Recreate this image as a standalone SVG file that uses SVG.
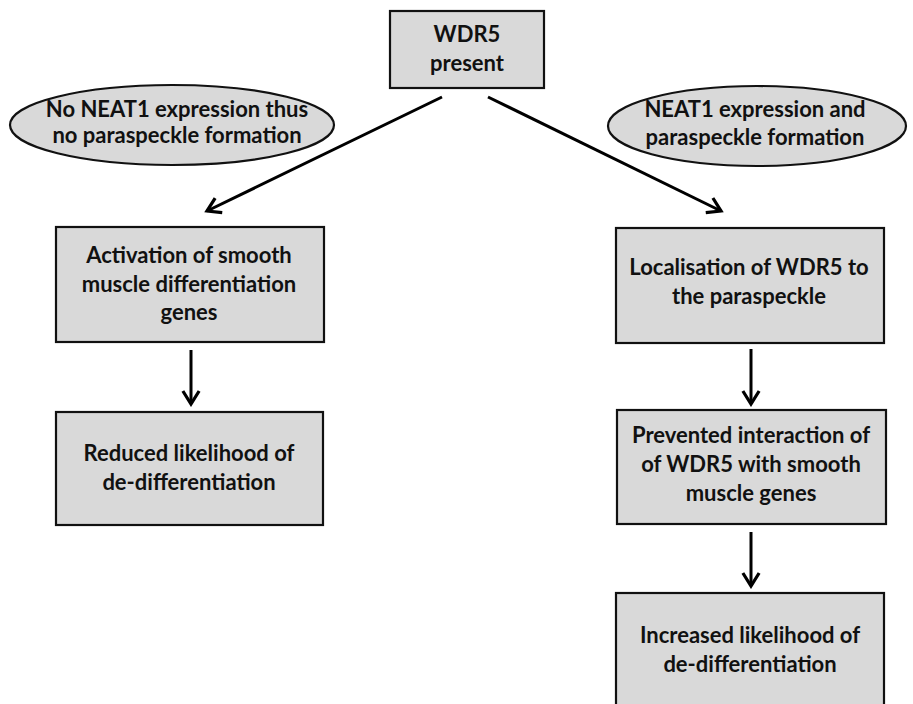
<svg xmlns="http://www.w3.org/2000/svg" width="913" height="704" viewBox="0 0 913 704">
<style>
.box{fill:#d9d9d9;stroke:#111;stroke-width:2.2}
.t{font-family:Lato,"Open Sans","Liberation Sans",sans-serif;font-weight:bold;font-size:22px;fill:#111;text-anchor:middle}
.c{stroke:#000;stroke-width:3;fill:none;marker-end:url(#ah)}
</style>
<defs>
<marker id="ah" viewBox="0 0 12 12" refX="10" refY="6" markerWidth="6.5" markerHeight="6.5" orient="auto" markerUnits="strokeWidth">
<path d="M2,1 L10,6 L2,11" fill="none" stroke="#000" stroke-width="2"/>
</marker>
</defs>
<rect width="913" height="704" fill="#fff"/>
<g id="connectors">
<line class="c" x1="442" y1="97" x2="207" y2="211"/>
<line class="c" x1="488" y1="97" x2="721" y2="211"/>
<line class="c" x1="191" y1="350" x2="191" y2="404"/>
<line class="c" x1="751" y1="349" x2="751" y2="404"/>
<line class="c" x1="751" y1="532" x2="751" y2="586"/>
</g>
<g id="wdr5">
<rect class="box" x="390" y="11" width="154" height="77"/>
<text class="t" x="467" y="42">WDR5</text>
<text class="t" x="467" y="71">present</text>
</g>
<g id="no-neat1">
<ellipse class="box" cx="172" cy="125" rx="162" ry="40"/>
<text class="t" x="177" y="117">No NEAT1 expression thus</text>
<text class="t" x="177" y="143">no paraspeckle formation</text>
</g>
<g id="neat1">
<ellipse class="box" cx="757" cy="126" rx="149" ry="40"/>
<text class="t" x="755" y="117">NEAT1 expression and</text>
<text class="t" x="755" y="145">paraspeckle formation</text>
</g>
<g id="activation">
<rect class="box" x="56" y="227" width="268" height="115"/>
<text class="t" x="189" y="263">Activation of smooth</text>
<text class="t" x="189" y="292">muscle differentiation</text>
<text class="t" x="189" y="320">genes</text>
</g>
<g id="reduced">
<rect class="box" x="56" y="412" width="267" height="113"/>
<text class="t" x="189" y="461">Reduced likelihood of</text>
<text class="t" x="189" y="490">de-differentiation</text>
</g>
<g id="localisation">
<rect class="box" x="616" y="228" width="268" height="115"/>
<text class="t" x="749" y="275">Localisation of WDR5 to</text>
<text class="t" x="749" y="304">the paraspeckle</text>
</g>
<g id="prevented">
<rect class="box" x="617" y="410" width="269" height="114"/>
<text class="t" x="751" y="443">Prevented interaction of</text>
<text class="t" x="751" y="472">of WDR5 with smooth</text>
<text class="t" x="751" y="501">muscle genes</text>
</g>
<g id="increased">
<rect class="box" x="616" y="593" width="268" height="122"/>
<text class="t" x="750" y="643">Increased likelihood of</text>
<text class="t" x="750" y="672">de-differentiation</text>
</g>
</svg>
